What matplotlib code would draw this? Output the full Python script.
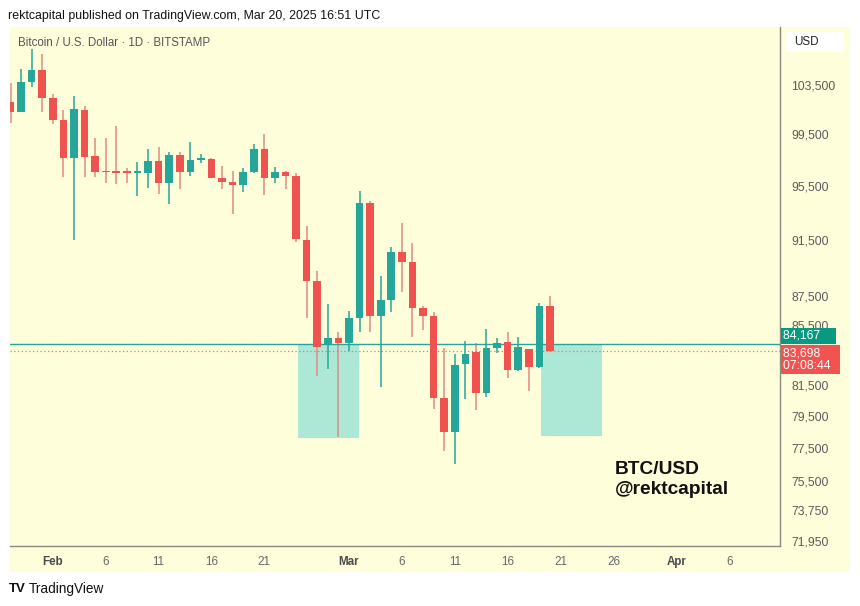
import numpy as np
import pandas as pd
import matplotlib
matplotlib.use("Agg")
from matplotlib import pyplot as plt
import matplotlib.dates as mdates
import matplotlib.transforms as mtransforms
from matplotlib.patches import Rectangle, FancyBboxPatch

plt.rcParams['font.family'] = ['Liberation Sans', 'DejaVu Sans']

# daily BTC/USD candles, Jan 28 - Mar 20 2025
dates = pd.date_range("2025-01-28", "2025-03-20", freq="D")
opens = [102106, 101319, 103772, 104745, 102408, 100652, 97624, 101457, 97803, 96640,
         96562, 96520, 96500, 96509, 97437, 95742, 97881, 96586, 97492, 97570,
         96125, 95773, 95567, 96586, 98327, 96125, 96586, 96255, 91466, 88544,
         84119, 84569, 84233, 85970, 94228, 86087, 87193, 90573, 89896, 86659,
         86087, 80658, 78463, 82855, 83631, 80979, 83939, 84301, 82460, 83851,
         82637, 86797]
highs = [103666, 104804, 106489, 106090, 102760, 101457, 102596, 101806, 99194, 99194,
         100170, 96871, 97337, 98327, 98483, 98092, 98092, 98877, 97936, 97671,
         97026, 96663, 96848, 98719, 99510, 96972, 96640, 96509, 92492, 89253,
         86915, 85016, 86453, 95133, 94378, 88878, 90934, 92736, 91268, 86777,
         86342, 83898, 83498, 84388, 84233, 85199, 84610, 84975, 84637, 83851,
         86964, 87471]
lows = [100411, 101295, 103360, 101319, 100330, 96156, 91466, 96156, 96201, 95696,
        95642, 95696, 94731, 95315, 94860, 94106, 95240, 96278, 97235, 96079,
        95240, 93359, 95057, 96462, 94807, 95742, 95240, 91297, 85930, 82065,
        82525, 78151, 83738, 84975, 85016, 81368, 86342, 87772, 84637, 85132,
        79915, 77301, 76505, 80555, 79871, 80722, 83604, 81915, 82393, 81090,
        82571, 83631]
closes = [101295, 103772, 104745, 102408, 100652, 97624, 101514, 97748, 96586, 96562,
          96520, 96500, 96520, 97437, 95742, 97881, 96586, 97492, 97570, 96125,
          95773, 95589, 96586, 98327, 96079, 96586, 96255, 91516, 88544, 84006,
          84569, 84233, 85970, 94228, 86087, 87193, 90573, 89896, 86659, 86087,
          80619, 78463, 82789, 83518, 80979, 83898, 84274, 82460, 83965, 82637,
          86797, 83698]

last_close = 83698
level_price = 84167
# highlighted zones: (start, end, top, bottom)
zones = [("2025-02-24 05:00", "2025-03-01 23:00", 84167, 78104),
         ("2025-03-19 03:00", "2025-03-24 21:00", 84167, 78230)]

price_ticks = [103500, 99500, 95500, 91500, 87500, 85500, 81500, 79500, 77500, 75500, 73750, 71950]
tick_days = ["2025-02-01", "2025-02-06", "2025-02-11", "2025-02-16", "2025-02-21",
             "2025-03-01", "2025-03-06", "2025-03-11", "2025-03-16", "2025-03-21",
             "2025-03-26", "2025-04-01", "2025-04-06"]
tick_text = ["Feb", "6", "11", "16", "21", "Mar", "6", "11", "16", "21", "26", "Apr", "6"]

UP = "#26a69a"
DOWN = "#ef5350"
DOWN_WICK = "#e08a80"
BG = "#fffedb"
ZONE = "#ade8d6"

W, H = 860, 606
fig = plt.figure(figsize=(W / 100, H / 100), dpi=100)
fig.patch.set_facecolor("white")

def fx(px):
    return px / W

def fy(py):
    return 1 - py / H

# yellow chart panel
fig.patches.append(Rectangle((fx(10), fy(572)), fx(840), 545 / H, transform=fig.transFigure,
                             facecolor=BG, edgecolor="none", zorder=-10))

ax = fig.add_axes([fx(10), fy(546), fx(770), 519 / H])
ax.set_facecolor(BG)
ax.set_zorder(1)

x = mdates.date2num(dates)
o = np.array(opens, float)
h = np.array(highs, float)
l = np.array(lows, float)
c = np.array(closes, float)
up = c >= o

# zones
for start, end, top, bot in zones:
    x0 = mdates.date2num(pd.Timestamp(start))
    x1 = mdates.date2num(pd.Timestamp(end))
    ax.add_patch(Rectangle((x0, bot), x1 - x0, top - bot, facecolor=ZONE, edgecolor="none", zorder=1))

# wicks
ax.vlines(x[up], l[up], h[up], color=UP, lw=1.1, zorder=2)
ax.vlines(x[~up], l[~up], h[~up], color=DOWN_WICK, lw=1.1, zorder=2)

# bodies
bot = np.minimum(o, c)
top = np.maximum(o, c)
height = np.maximum(top - bot, bot * 0.0012)
ax.bar(x[up], height[up], bottom=bot[up], width=0.72, color=UP, zorder=3, linewidth=0)
ax.bar(x[~up], height[~up], bottom=bot[~up], width=0.72, color=DOWN, zorder=3, linewidth=0)

# price lines
ax.axhline(level_price, color=UP, lw=1.0, zorder=2.5)
ax.axhline(last_close, color="#e8736b", lw=0.9, ls=(0, (1, 2)), zorder=2.5)

ax.set_yscale("log")
ax.set_ylim(71660, 108400)
ax.set_xlim(mdates.date2num(pd.Timestamp("2025-01-28")) - 0.05,
            mdates.date2num(pd.Timestamp("2025-04-10 18:00")))

ax.yaxis.tick_right()
ax.yaxis.set_minor_locator(matplotlib.ticker.NullLocator())
ax.yaxis.set_minor_formatter(matplotlib.ticker.NullFormatter())
ax.set_yticks(price_ticks)
ax.set_yticklabels([f"{p:,}" for p in price_ticks])
ax.tick_params(axis="y", length=0, pad=8, labelsize=8.8, labelcolor="#5a5a5a")

ax.set_xticks(mdates.date2num(pd.to_datetime(tick_days)))
ax.set_xticklabels(tick_text)
ax.tick_params(axis="x", length=0, pad=7, labelsize=8.4, labelcolor="#666666")
for lab in ax.get_xticklabels():
    if lab.get_text() in ("Feb", "Mar", "Apr"):
        lab.set_fontweight("bold")
        lab.set_color("#4a4a4a")

for s in ("left", "top"):
    ax.spines[s].set_visible(False)
for s in ("right", "bottom"):
    ax.spines[s].set_color("#8a8a80")
    ax.spines[s].set_linewidth(1.0)

# price labels on the axis
trans = mtransforms.blended_transform_factory(ax.transAxes, ax.transData)
ax.text(1.004, level_price, "84,167    ", transform=trans + mtransforms.ScaledTranslation(0, 6 / 72, fig.dpi_scale_trans),
        ha="left", va="center", fontsize=8.8, color="white", zorder=6, clip_on=False,
        bbox=dict(boxstyle="square,pad=0.2", fc="#089981", ec="none"))
ax.text(1.004, last_close, "83,698     \n07:08:44  ", transform=trans + mtransforms.ScaledTranslation(0, -6 / 72, fig.dpi_scale_trans),
        ha="left", va="center", fontsize=8.8, color="white", zorder=6, clip_on=False, linespacing=1.05,
        bbox=dict(boxstyle="square,pad=0.2", fc="#f05350", ec="none"))

# USD box
fig.patches.append(FancyBboxPatch((fx(786), fy(52)), fx(58), 20 / H, boxstyle="round,pad=0,rounding_size=0.004",
                                  transform=fig.transFigure, facecolor="white", edgecolor="none", zorder=2))
fig.text(fx(794), fy(42), "USD", fontsize=8.4, color="#222222", va="center", ha="left", zorder=3)

# header texts
fig.text(fx(8), fy(16), "rektcapital published on TradingView.com, Mar 20, 2025 16:51 UTC",
         fontsize=8.9, color="#111111", va="center", ha="left")
fig.text(fx(18), fy(43), "Bitcoin / U.S. Dollar \u00b7 1D \u00b7 BITSTAMP",
         fontsize=8.3, color="#555555", va="center", ha="left", zorder=3)

# watermark
fig.text(fx(615), fy(469), "BTC/USD", fontsize=13.8, fontweight="bold", color="#111111", va="center", ha="left", zorder=3)
fig.text(fx(615), fy(489), "@rektcapital", fontsize=13.8, fontweight="bold", color="#111111", va="center", ha="left", zorder=3)

# footer logo
fig.text(fx(9), fy(589), "TV", fontsize=9.5, fontweight="bold", color="#111111", va="center", ha="left")
fig.text(fx(29), fy(589), "TradingView", fontsize=9.8, color="#111111", va="center", ha="left")

fig.savefig("out.png", dpi=100, facecolor=fig.get_facecolor())
